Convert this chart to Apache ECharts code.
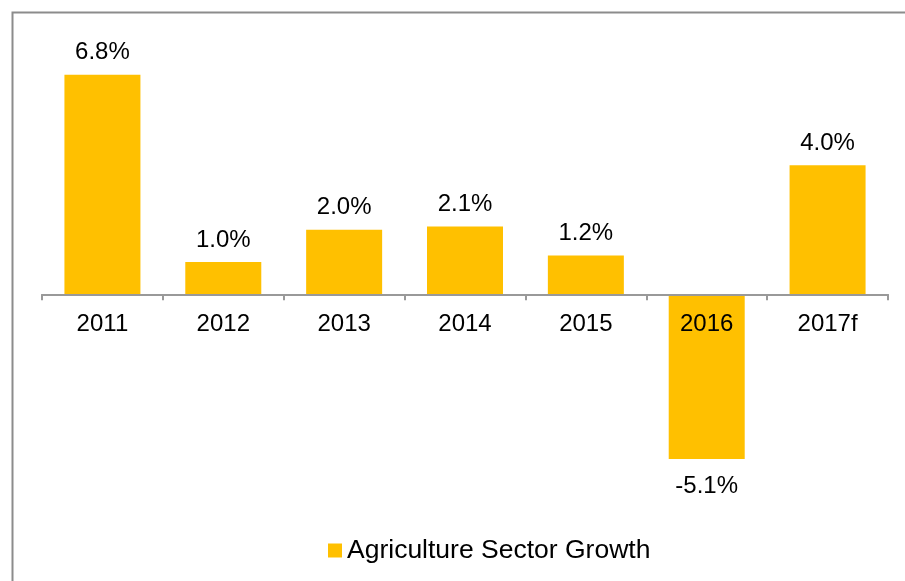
<!DOCTYPE html>
<html>
<head>
<meta charset="utf-8">
<script src="https://cdn.jsdelivr.net/npm/echarts@6/dist/echarts.min.js"></script>
<style>
  html, body { margin: 0; padding: 0; background: #fff; }
  #chart { width: 905px; height: 581px; }
</style>
</head>
<body>
<div id="chart"></div>
<script>
// Annual agriculture sector growth, percent
const years = ['2011', '2012', '2013', '2014', '2015', '2016', '2017f'];
const growth = [6.8, 1.0, 2.0, 2.1, 1.2, -5.1, 4.0];
const seriesName = 'Agriculture Sector Growth';

const FONT = '"Liberation Sans", Arial, sans-serif';
const GOLD = '#FFC000';

// value range of the hidden y scale; the category axis sits on zero
const Y_MIN = -6, Y_MAX = 8;
const GRID_TOP = 36, GRID_H = 452;
const zeroOffset = -GRID_H * (0 - Y_MIN) / (Y_MAX - Y_MIN);

const chart = echarts.init(document.getElementById('chart'), null, { renderer: 'canvas' });

const barData = growth.map(v => ({
  value: v,
  label: { position: v < 0 ? 'bottom' : 'top', distance: v < 0 ? 15 : 10 }
}));

chart.setOption({
  backgroundColor: '#ffffff',
  animation: false,
  graphic: [{
    type: 'rect',
    left: 10, top: 10,
    shape: { x: 0, y: 0, width: 1000, height: 1000 },
    style: { fill: 'none', stroke: '#8c8c8c', lineWidth: 2 },
    silent: true
  }],
  grid: { left: 42, right: 17, top: GRID_TOP, height: GRID_H },
  legend: {
    data: [seriesName],
    bottom: 12,
    left: 323,
    icon: 'rect',
    itemWidth: 14,
    itemHeight: 14,
    itemGap: 6,
    textStyle: { fontFamily: FONT, fontSize: 26.5, color: '#000' }
  },
  xAxis: {
    type: 'category',
    data: years,
    z: 5,
    offset: zeroOffset,
    axisLine: { onZero: false, lineStyle: { color: '#999999', width: 2 } },
    axisTick: { show: true, length: 6, lineStyle: { color: '#999999', width: 2 } },
    axisLabel: { fontFamily: FONT, fontSize: 24, color: '#000', margin: 18 }
  },
  yAxis: {
    type: 'value',
    min: Y_MIN, max: Y_MAX,
    show: false,
    splitLine: { show: false }
  },
  series: [{
    name: seriesName,
    type: 'bar',
    data: barData,
    barWidth: 76,
    itemStyle: { color: GOLD },
    label: {
      show: true,
      fontFamily: FONT,
      fontSize: 24,
      color: '#000',
      formatter: p => p.value.toFixed(1) + '%'
    }
  }]
});
</script>
</body>
</html>
